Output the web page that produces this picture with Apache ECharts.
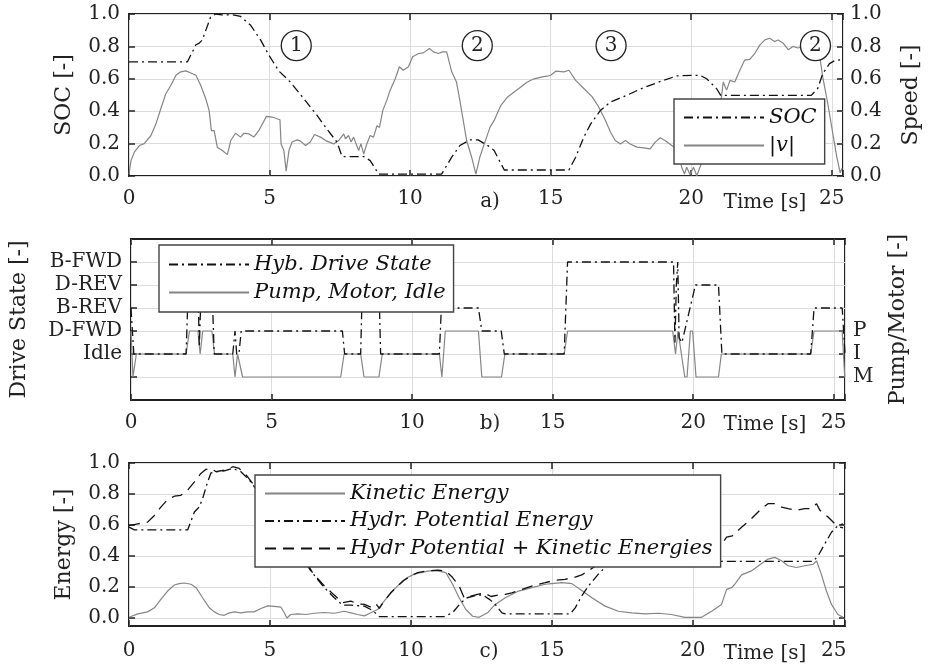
<!DOCTYPE html>
<html><head><meta charset="utf-8">
<script src="https://cdn.jsdelivr.net/npm/echarts@6/dist/echarts.min.js"></script>
<style>html,body{margin:0;padding:0;background:#fff}#c{width:930px;height:665px}</style>
</head><body><div id="c"></div>
<script>
// ---------- data ----------
const timeMax = 25.4;
const socData = [[0,0.705],[2.08,0.705],[2.38,0.81],[2.5,0.82],[2.61,0.84],[2.9,0.98],[3.09,1.0],[3.3,0.995],[3.7,0.995],[3.97,0.985],[4.33,0.93],[4.68,0.84],[4.98,0.745],[5.33,0.648],[5.74,0.58],[6.22,0.477],[6.69,0.374],[7.04,0.29],[7.4,0.209],[7.58,0.12],[8.35,0.12],[8.58,0.095],[8.88,0.012],[11.12,0.012],[11.48,0.116],[11.77,0.188],[12.13,0.223],[12.42,0.223],[12.84,0.18],[12.99,0.157],[13.35,0.037],[15.65,0.037],[15.89,0.116],[16.18,0.24],[16.42,0.32],[16.77,0.405],[17.13,0.457],[17.6,0.49],[18.3,0.545],[19.01,0.59],[19.49,0.618],[20.31,0.622],[20.55,0.6],[20.9,0.54],[21.05,0.498],[24.27,0.498],[24.5,0.54],[24.68,0.632],[24.92,0.694],[25.1,0.712],[25.4,0.72]];
const speedData = [[0,0.01],[0.07,0.095],[0.19,0.147],[0.37,0.188],[0.54,0.2],[0.78,0.25],[0.96,0.322],[1.13,0.415],[1.31,0.508],[1.49,0.56],[1.67,0.622],[1.84,0.643],[2.02,0.649],[2.2,0.636],[2.38,0.622],[2.55,0.56],[2.73,0.477],[2.85,0.405],[2.93,0.28],[3.03,0.28],[3.14,0.178],[3.32,0.157],[3.5,0.132],[3.62,0.219],[3.79,0.264],[3.97,0.24],[4.09,0.264],[4.27,0.26],[4.44,0.24],[4.62,0.281],[4.89,0.368],[5.09,0.364],[5.37,0.347],[5.41,0.198],[5.51,0.157],[5.59,0.03],[5.69,0.157],[5.8,0.21],[5.98,0.223],[6.1,0.215],[6.28,0.188],[6.45,0.21],[6.6,0.256],[6.81,0.24],[7.04,0.215],[7.28,0.198],[7.46,0.219],[7.64,0.26],[7.7,0.23],[7.81,0.25],[7.9,0.21],[7.99,0.24],[8.17,0.157],[8.25,0.2],[8.35,0.136],[8.46,0.198],[8.58,0.25],[8.7,0.24],[8.82,0.31],[8.91,0.3],[9.03,0.405],[9.17,0.467],[9.29,0.53],[9.47,0.6],[9.62,0.674],[9.76,0.653],[9.94,0.674],[10.09,0.736],[10.3,0.756],[10.47,0.76],[10.69,0.787],[10.83,0.766],[11.0,0.756],[11.15,0.766],[11.3,0.766],[11.48,0.643],[11.65,0.58],[11.77,0.467],[11.89,0.343],[12.01,0.219],[12.19,0.116],[12.34,0.012],[12.48,0.116],[12.6,0.178],[12.84,0.3],[12.99,0.343],[13.23,0.436],[13.47,0.488],[13.7,0.519],[13.94,0.55],[14.17,0.58],[14.41,0.6],[14.7,0.612],[14.88,0.616],[15.0,0.622],[15.18,0.647],[15.47,0.643],[15.65,0.653],[15.77,0.622],[15.89,0.59],[16.18,0.54],[16.48,0.488],[16.71,0.426],[16.95,0.343],[17.13,0.27],[17.3,0.219],[17.48,0.198],[17.66,0.219],[17.83,0.198],[18.07,0.178],[18.31,0.174],[18.54,0.167],[18.72,0.209],[18.9,0.236],[19.07,0.219],[19.31,0.188],[19.55,0.157],[19.66,0.054],[19.76,0.012],[19.84,0.054],[19.96,0.008],[20.08,0.054],[20.2,0.002],[20.31,0.054],[20.4,0.09],[20.67,0.29],[21.02,0.41],[21.14,0.58],[21.26,0.53],[21.38,0.59],[21.55,0.58],[21.73,0.653],[21.9,0.715],[22.08,0.72],[22.26,0.756],[22.44,0.808],[22.62,0.84],[22.79,0.85],[22.97,0.83],[23.09,0.84],[23.27,0.82],[23.45,0.78],[23.62,0.8],[23.8,0.79],[23.97,0.8],[24.2,0.79],[24.45,0.78],[24.56,0.756],[24.68,0.61],[24.86,0.446],[25.04,0.26],[25.18,0.116],[25.3,0.02],[25.37,0.05]];
const phaseMarks = [[5.95,0.805,'1'],[12.39,0.805,'2'],[17.15,0.805,'3'],[24.42,0.805,'2']];

const stateLevels = [0,1,2,3,4];
const stateNames = ['Idle','D-FWD','B-REV','D-REV','B-FWD'];
const pmLevels = [-1,0,1];
const pmNames = ['M','I','P'];
const hybStateData = [[0,2],[0.1,0],[1.96,0],[2.04,3],[2.38,3],[2.43,0.3],[2.5,3],[2.88,3],[2.96,0],[3.62,0],[3.7,1],[3.76,0],[3.84,0],[3.92,1],[7.52,1],[7.6,0],[8.17,0],[8.23,3],[8.82,3],[8.88,0],[10.97,0],[11.04,2],[12.36,2],[12.48,1],[13.17,1],[13.28,0],[15.41,0],[15.53,4],[19.3,4],[19.35,0.5],[19.4,3],[19.45,4],[19.5,0.7],[19.6,0.5],[20.08,3],[20.9,3],[21.02,0],[24.18,0],[24.3,2],[25.3,2],[25.4,0]];
const pumpMotorData = [[0,1],[0.07,-1],[0.19,0],[1.96,0],[2.08,1],[2.38,1],[2.46,0],[2.55,1],[2.88,1],[2.97,0],[3.62,0],[3.7,-1],[3.79,0],[3.85,0],[3.97,-1],[7.46,-1],[7.58,0],[8.17,0],[8.29,-1],[8.82,-1],[8.94,0],[10.97,0],[11.06,-1],[11.18,1],[12.36,1],[12.48,-1],[13.18,-1],[13.3,0],[15.41,0],[15.53,1],[19.27,1],[19.37,0],[19.46,1],[19.7,-1],[19.78,-1],[19.9,1],[19.98,1],[20.1,-1],[20.9,-1],[21.0,0],[24.18,0],[24.3,1],[25.3,1],[25.39,-1]];

const kineticData = [[0,0.006],[0.31,0.028],[0.66,0.041],[0.9,0.067],[1.13,0.121],[1.37,0.175],[1.61,0.214],[1.78,0.223],[1.96,0.227],[2.2,0.219],[2.38,0.197],[2.61,0.132],[2.85,0.067],[3.03,0.041],[3.2,0.024],[3.38,0.019],[3.56,0.035],[3.74,0.041],[3.97,0.035],[4.2,0.041],[4.44,0.041],[4.68,0.063],[4.92,0.08],[5.15,0.076],[5.39,0.071],[5.51,0.035],[5.6,0.002],[5.74,0.024],[5.98,0.028],[6.28,0.024],[6.57,0.032],[6.93,0.037],[7.28,0.032],[7.64,0.045],[7.87,0.035],[8.11,0.024],[8.35,0.015],[8.58,0.035],[8.82,0.056],[9.05,0.11],[9.29,0.164],[9.53,0.208],[9.7,0.24],[9.88,0.262],[10.12,0.284],[10.35,0.294],[10.65,0.305],[10.95,0.305],[11.24,0.294],[11.48,0.219],[11.71,0.132],[11.95,0.056],[12.19,0.013],[12.42,0.006],[12.72,0.035],[12.99,0.089],[13.35,0.132],[13.82,0.175],[14.29,0.197],[14.76,0.219],[15.0,0.223],[15.35,0.229],[15.71,0.223],[16.0,0.186],[16.42,0.132],[16.89,0.078],[17.36,0.045],[17.83,0.035],[18.31,0.028],[18.78,0.032],[19.24,0.024],[19.72,0.006],[20.31,0.006],[20.67,0.045],[21.02,0.089],[21.2,0.186],[21.38,0.197],[21.49,0.219],[21.73,0.279],[22.08,0.305],[22.38,0.344],[22.67,0.381],[22.91,0.392],[23.15,0.37],[23.38,0.338],[23.68,0.327],[23.97,0.338],[24.27,0.348],[24.39,0.37],[24.56,0.284],[24.74,0.175],[24.92,0.089],[25.15,0.024],[25.33,0.006]];
const hydrPotData = [[0,0.587],[0.19,0.569],[2.08,0.569],[2.32,0.684],[2.49,0.716],[2.61,0.77],[2.79,0.879],[2.91,0.937],[3.14,0.944],[3.38,0.95],[3.68,0.965],[3.97,0.944],[4.27,0.89],[4.68,0.79],[4.98,0.69],[5.33,0.57],[5.74,0.49],[6.1,0.4],[6.45,0.305],[6.93,0.197],[7.28,0.132],[7.58,0.084],[7.87,0.084],[8.35,0.078],[8.64,0.05],[8.88,0.011],[11.18,0.011],[11.48,0.035],[11.77,0.1],[12.0,0.132],[12.36,0.149],[12.55,0.15],[12.8,0.12],[12.99,0.089],[13.23,0.035],[13.35,0.028],[15.65,0.028],[15.83,0.067],[16.06,0.143],[16.3,0.208],[16.65,0.284],[17.0,0.348],[17.5,0.39],[18.3,0.43],[19.0,0.46],[19.5,0.48],[20.3,0.48],[20.6,0.44],[20.9,0.366],[24.27,0.366],[24.45,0.403],[24.68,0.478],[24.92,0.554],[25.15,0.597],[25.33,0.608]];
const hydrKinData = [[0,0.597],[0.31,0.608],[0.66,0.619],[0.9,0.662],[1.13,0.716],[1.37,0.764],[1.61,0.786],[1.84,0.792],[2.08,0.825],[2.32,0.879],[2.55,0.933],[2.73,0.959],[2.91,0.965],[3.09,0.944],[3.26,0.95],[3.5,0.959],[3.68,0.976],[3.91,0.965],[4.21,0.911],[4.39,0.868],[4.68,0.82],[4.98,0.75],[5.33,0.64],[5.74,0.52],[6.1,0.42],[6.51,0.294],[6.93,0.208],[7.28,0.149],[7.58,0.1],[7.87,0.11],[8.11,0.093],[8.35,0.089],[8.58,0.071],[8.76,0.093],[8.88,0.063],[9.05,0.11],[9.29,0.164],[9.53,0.208],[9.76,0.245],[10.0,0.273],[10.24,0.294],[10.59,0.305],[10.95,0.31],[11.24,0.305],[11.48,0.262],[11.71,0.208],[11.89,0.132],[12.13,0.143],[12.36,0.154],[12.6,0.164],[12.84,0.14],[13.1,0.15],[13.35,0.154],[13.58,0.164],[13.94,0.186],[14.41,0.214],[14.76,0.229],[15.12,0.245],[15.47,0.251],[15.77,0.262],[16.06,0.279],[16.5,0.33],[17.0,0.42],[17.5,0.44],[18.3,0.46],[19.0,0.49],[19.5,0.5],[20.3,0.49],[20.7,0.48],[21.0,0.47],[21.2,0.522],[21.4,0.53],[21.73,0.586],[22.08,0.641],[22.44,0.706],[22.67,0.738],[22.91,0.738],[23.15,0.716],[23.38,0.706],[23.68,0.695],[23.97,0.706],[24.21,0.706],[24.39,0.738],[24.51,0.695],[24.8,0.652],[25.04,0.608],[25.21,0.587],[25.33,0.582]];
const energyTicks = [0,0.2,0.4,0.6,0.8,1.0];

// ---------- styles ----------
const FONT = '"DejaVu Serif", "Liberation Serif", serif';
const INK = '#222';
const GRAY = '#858585';
const DASHDOT = [9,4,2,4];
const DASHED = [11,7];
const tickStyle = {show:true, inside:true, length:6, lineStyle:{color:INK, width:1.5}};
const gridLine = {show:true, lineStyle:{color:'#dcdcdc', width:1}};
const labelStyle = {color:INK, fontFamily:FONT, fontSize:20};
const nameStyle = {color:INK, fontFamily:FONT, fontSize:22};
const noLine = {show:false, onZero:false};

const grids = [
  {left:129, top:14, width:716, height:162},
  {left:129, top:239, width:716, height:161},
  {left:129, top:463, width:716, height:163}
].map(g => Object.assign({show:true, borderColor:INK, borderWidth:2, backgroundColor:'transparent'}, g));

const xAxes = [];
[0,1,2].forEach(i => {
  xAxes.push({type:'value', gridIndex:i, min:0, max:timeMax, interval:5, position:'bottom',
    axisLine:noLine, axisTick:tickStyle, splitLine:gridLine,
    axisLabel:Object.assign({margin:i === 2 ? 15 : 13, formatter:v => (v % 5 === 0 ? String(v) : '')}, labelStyle)});
  xAxes.push({type:'value', gridIndex:i, min:0, max:timeMax, interval:5, position:'top',
    axisLine:noLine, axisTick:tickStyle, splitLine:{show:false}, axisLabel:{show:false}});
});

const fmt1 = v => v.toFixed(1);
const yAxes = [
  {type:'value', gridIndex:0, min:0, max:1, interval:0.2, position:'left', name:'SOC [-]', nameLocation:'middle', nameGap:54, nameTextStyle:nameStyle,
    axisLine:noLine, axisTick:tickStyle, splitLine:gridLine, axisLabel:Object.assign({margin:9, formatter:fmt1}, labelStyle)},
  {type:'value', gridIndex:0, min:0, max:1, interval:0.2, position:'right', name:'Speed [-]', nameLocation:'middle', nameGap:57, nameTextStyle:nameStyle,
    axisLine:noLine, axisTick:tickStyle, splitLine:{show:false}, axisLabel:Object.assign({margin:7, formatter:fmt1}, labelStyle)},
  {type:'value', gridIndex:1, min:-2, max:5, interval:1, position:'left', name:'Drive State [-]', nameLocation:'middle', nameGap:101, nameTextStyle:nameStyle,
    axisLine:noLine, axisTick:Object.assign({customValues:[-1].concat(stateLevels)}, tickStyle), splitLine:gridLine,
    axisLabel:Object.assign({margin:9, customValues:stateLevels, formatter:v => { const k = stateLevels.indexOf(v); return k >= 0 ? stateNames[k] : ''; }}, labelStyle)},
  {type:'value', gridIndex:1, min:-2, max:5, interval:1, position:'right', name:'Pump/Motor [-]', nameLocation:'middle', nameGap:42, nameTextStyle:nameStyle,
    axisLine:noLine, axisTick:Object.assign({customValues:pmLevels}, tickStyle), splitLine:{show:false},
    axisLabel:Object.assign({margin:8, customValues:pmLevels, formatter:v => { const k = pmLevels.indexOf(v); return k >= 0 ? pmNames[k] : ''; }}, labelStyle)},
  {type:'value', gridIndex:2, min:-0.05, max:1.0, position:'left', name:'Energy [-]', nameLocation:'middle', nameGap:54, nameTextStyle:nameStyle,
    axisLine:noLine, axisTick:Object.assign({customValues:energyTicks}, tickStyle), splitLine:gridLine,
    axisLabel:Object.assign({margin:9, customValues:energyTicks, formatter:fmt1}, labelStyle)},
  {type:'value', gridIndex:2, min:-0.05, max:1.0, position:'right',
    axisLine:noLine, axisTick:Object.assign({customValues:energyTicks}, tickStyle), splitLine:{show:false}, axisLabel:{show:false}}
];

function lineSeries(name, data, xi, yi, color, type, width) {
  return {name, type:'line', data, xAxisIndex:xi, yAxisIndex:yi, symbol:'none', showSymbol:false, animation:false,
    lineStyle:{color, width, type}, itemStyle:{color}, z:3};
}

const series = [
  lineSeries('|v|', speedData, 0, 1, GRAY, 'solid', 1.2),
  lineSeries('SOC', socData, 0, 0, '#111', DASHDOT, 1.3),
  {name:'phase', type:'scatter', xAxisIndex:0, yAxisIndex:0, data:phaseMarks, symbol:'circle', symbolSize:30, animation:false, z:6,
    itemStyle:{color:'#fff', borderColor:INK, borderWidth:1.3, opacity:1},
    label:{show:true, position:'inside', formatter:p => p.data[2], color:INK, fontFamily:FONT, fontSize:20}},
  lineSeries('Pump, Motor, Idle', pumpMotorData, 2, 2, GRAY, 'solid', 1.2),
  lineSeries('Hyb. Drive State', hybStateData, 2, 2, '#111', DASHDOT, 1.3),
  lineSeries('Kinetic Energy', kineticData, 4, 4, GRAY, 'solid', 1.2),
  lineSeries('Hydr. Potential Energy', hydrPotData, 4, 4, '#111', DASHDOT, 1.3),
  lineSeries('Hydr Potential + Kinetic Energies', hydrKinData, 4, 4, '#111', DASHED, 1.3)
];

const legendBase = {orient:'vertical', itemWidth:80, itemHeight:14, itemGap:7, backgroundColor:'#fff', borderColor:'#444', borderWidth:1.4,
  selectedMode:false, itemStyle:{color:'rgba(0,0,0,0)', borderWidth:0, borderColor:'rgba(0,0,0,0)', opacity:0},
  textStyle:{color:'#111', fontFamily:FONT, fontStyle:'italic', fontSize:21, lineHeight:21}, z:10};
const legends = [
  Object.assign({}, legendBase, {data:['SOC','|v|'], left:674, top:99, padding:[8,8,8,9]}),
  Object.assign({}, legendBase, {data:['Hyb. Drive State','Pump, Motor, Idle'], left:159, top:245, padding:[9,8,9,9]}),
  Object.assign({}, legendBase, {data:['Kinetic Energy','Hydr. Potential Energy','Hydr Potential + Kinetic Energies'], left:255, top:475, padding:[8,8,8,9], itemGap:6.5})
];

function txt(text, x, y) {
  return {type:'text', x, y, z:20, style:{text, fill:INK, font:'20px ' + FONT, align:'center', verticalAlign:'middle', textAlign:'center', textVerticalAlign:'middle'}};
}
const graphics = [
  txt('a)', 490, 202), txt('Time [s]', 765, 203),
  txt('b)', 490, 424), txt('Time [s]', 765, 425),
  txt('c)', 489, 652), txt('Time [s]', 765, 654)
];

const chart = echarts.init(document.getElementById('c'), null, {renderer:'canvas'});
chart.setOption({
  animation:false,
  backgroundColor:'#fff',
  grid:grids, xAxis:xAxes, yAxis:yAxes, series, legend:legends, graphic:graphics
});
</script></body></html>
